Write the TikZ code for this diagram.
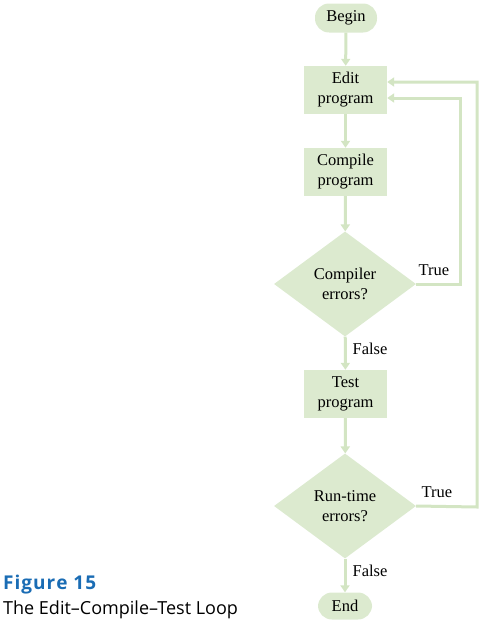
\documentclass[tikz,border=0pt]{standalone}
\usepackage{fontspec}
\setmainfont{Liberation Serif}
\newfontfamily\capfont{Open Sans}
\usetikzlibrary{shapes.geometric,arrows.meta}
\definecolor{fillg}{HTML}{DCEACF}
\definecolor{lineg}{HTML}{D3E5C3}
\definecolor{capblue}{HTML}{1A6CB4}
\tikzset{
  base/.style={fill=fillg, draw=none, align=center, inner sep=0pt, text=black,
    font=\fontsize{16.5}{20}\selectfont},
  term/.style={base, rounded corners=14pt, minimum width=62pt, minimum height=29pt},
  proc/.style={base, minimum width=83pt, minimum height=48pt},
  dec/.style={base, diamond, minimum width=142pt, minimum height=105pt},
  arr/.style={draw=lineg, line width=3pt, -{Triangle[width=9pt,length=7pt]}},
  lab/.style={font=\fontsize{16.5}{19}\selectfont, inner sep=0pt}
}
\begin{document}
\begin{tikzpicture}[x=1pt,y=-1pt]
\useasboundingbox (0,0) rectangle (481,621);
\node[term] (begin) at (346,18) {Begin};
\node[proc] (edit) at (345.5,90) {Edit\\program};
\node[proc] (compile) at (345.5,172) {Compile\\program};
\node[dec] (d1) at (345,284) {Compiler\\errors?};
\node[proc] (test) at (345.5,394) {Test\\program};
\node[dec] (d2) at (345,506) {Run-time\\errors?};
\node[term, minimum width=54pt, minimum height=27pt] (end) at (345,606) {End};

\coordinate (c1a) at (460,284);
\coordinate (c1b) at (460,98);
\coordinate (c2a) at (477,507);
\coordinate (c2b) at (477,82);

\draw[arr] (begin) -- (edit);
\draw[arr] (edit) -- (compile);
\draw[arr] (compile) -- (d1);
\draw[arr] (d1) -- (test);
\draw[arr] (test) -- (d2);
\draw[arr] (d2) -- (end);
\draw[arr] (d1.east) -- (c1a) -- (c1b) -- ([yshift=-8pt]edit.east);
\draw[arr] (d2.east) -- (c2a) -- (c2b) -- ([yshift=8pt]edit.east);

\node[lab] (t1) at (434,270) {True};
\node[lab] (f1) at (370,349) {False};
\node[lab] (t2) at (437,492) {True};
\node[lab] (f2) at (370,571) {False};

\node[anchor=base west, inner sep=0pt, text=capblue, font=\capfont\bfseries\fontsize{19}{22}\selectfont] (fig) at (3,589) {F\kern1pt i\kern1pt g\kern1pt u\kern1pt r\kern1pt e\kern1pt\ 1\kern1pt 5};
\node[anchor=base west, inner sep=0pt, font=\capfont\fontsize{18}{21}\selectfont] (cap) at (3,614) {The Edit–Compile–Test Loop};
\end{tikzpicture}
\end{document}
